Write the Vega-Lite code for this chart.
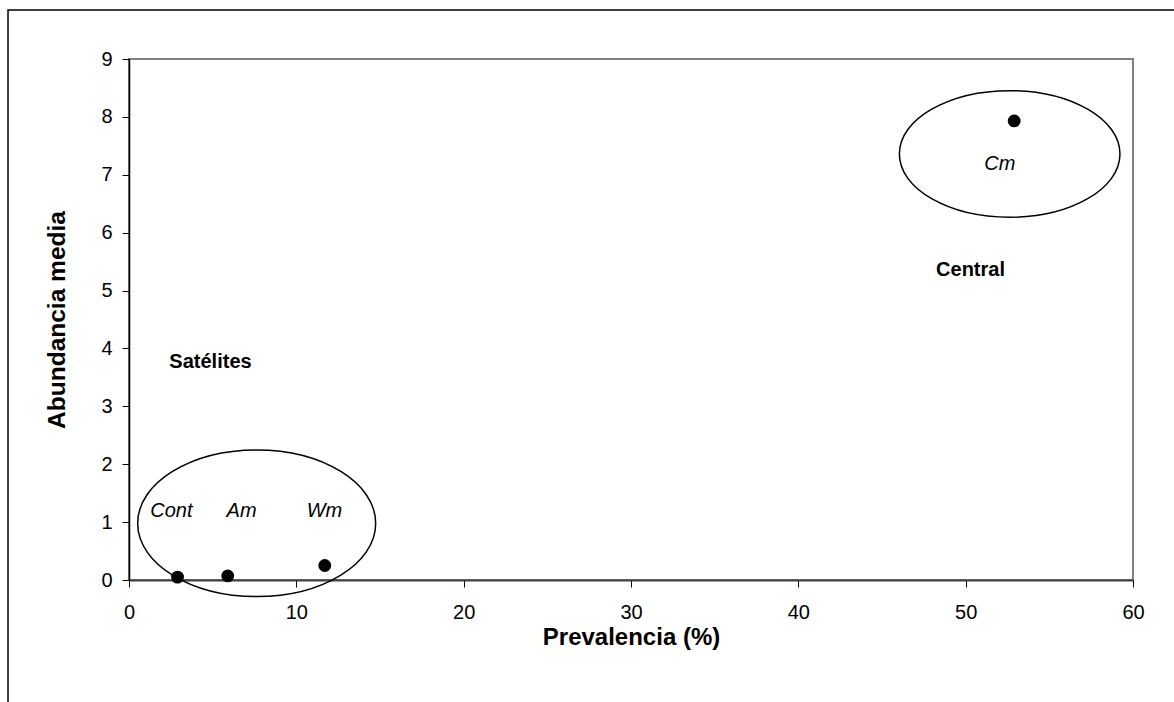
{
  "$schema": "https://vega.github.io/schema/vega-lite/v6.json",
  "width": 1004,
  "height": 521,
  "autosize": {"type": "none"},
  "padding": {"left": 129, "top": 59, "right": 41, "bottom": 122},
  "background": "white",
  "config": {
    "view": {"stroke": "#808080", "strokeWidth": 2},
    "font": "Liberation Sans"
  },
  "datasets": {
    "especies": [
      {"especie": "Cont", "x": 2.9, "y": 0.05},
      {"especie": "Am", "x": 5.9, "y": 0.07},
      {"especie": "Wm", "x": 11.7, "y": 0.25},
      {"especie": "Cm", "x": 52.9, "y": 7.93}
    ],
    "etiquetas": [
      {"texto": "Cont", "x": 2.53, "y": 1.09, "estilo": "especie"},
      {"texto": "Am", "x": 6.73, "y": 1.09, "estilo": "especie"},
      {"texto": "Wm", "x": 11.68, "y": 1.09, "estilo": "especie"},
      {"texto": "Cm", "x": 52.04, "y": 7.09, "estilo": "especie"},
      {"texto": "Satélites", "x": 4.87, "y": 3.67, "estilo": "grupo"},
      {"texto": "Central", "x": 50.29, "y": 5.25, "estilo": "grupo"}
    ],
    "grupos": [
      {"grupo": "Satélites", "x": 7.63, "y": 0.98},
      {"grupo": "Central", "x": 52.63, "y": 7.36}
    ],
    "marco": [
      {"x": -7.23, "x2": 70, "y": 9.846, "y2": -3}
    ]
  },
  "encoding": {
    "x": {
      "field": "x",
      "type": "quantitative",
      "scale": {"domain": [0, 60], "nice": false, "zero": false},
      "axis": {
        "title": "Prevalencia (%)",
        "values": [0, 10, 20, 30, 40, 50, 60],
        "grid": false,
        "domainColor": "#404040",
        "domainWidth": 2,
        "tickColor": "black",
        "tickSize": 7,
        "tickWidth": 1,
        "labelFontSize": 20,
        "labelColor": "black",
        "labelPadding": 15,
        "labelFlush": false,
        "titleFontSize": 24,
        "titleFontWeight": "bold",
        "titleColor": "black",
        "titlePadding": 3
      }
    },
    "y": {
      "field": "y",
      "type": "quantitative",
      "scale": {"domain": [0, 9], "nice": false, "zero": false},
      "axis": {
        "title": "Abundancia media",
        "values": [0, 1, 2, 3, 4, 5, 6, 7, 8, 9],
        "grid": false,
        "domainColor": "black",
        "domainWidth": 1.5,
        "tickColor": "black",
        "tickSize": 7,
        "tickWidth": 1,
        "labelFontSize": 20,
        "labelColor": "black",
        "labelPadding": 10,
        "labelFlush": false,
        "titleFontSize": 24.5,
        "titleFontWeight": "bold",
        "titleColor": "black",
        "titlePadding": 31
      }
    }
  },
  "layer": [
    {
      "data": {"name": "marco"},
      "mark": {"type": "rect", "fill": null, "filled": false, "stroke": "black", "strokeWidth": 1.5, "clip": false},
      "encoding": {
        "x2": {"field": "x2"},
        "y2": {"field": "y2"}
      }
    },
    {
      "data": {"name": "grupos"},
      "transform": [{"filter": "datum.grupo === 'Satélites'"}],
      "mark": {
        "type": "point",
        "shape": "M1,0 C1,0.3402 0.5523,0.616 0,0.616 C-0.5523,0.616 -1,0.3402 -1,0 C-1,-0.3402 -0.5523,-0.616 0,-0.616 C0.5523,-0.616 1,-0.3402 1,0 Z",
        "size": 56644,
        "filled": false,
        "stroke": "black",
        "strokeWidth": 1.5,
        "opacity": 1
      }
    },
    {
      "data": {"name": "grupos"},
      "transform": [{"filter": "datum.grupo === 'Central'"}],
      "mark": {
        "type": "point",
        "shape": "M1,0 C1,0.317 0.5523,0.574 0,0.574 C-0.5523,0.574 -1,0.317 -1,0 C-1,-0.317 -0.5523,-0.574 0,-0.574 C0.5523,-0.574 1,-0.317 1,0 Z",
        "size": 48664,
        "filled": false,
        "stroke": "black",
        "strokeWidth": 1.5,
        "opacity": 1
      }
    },
    {
      "data": {"name": "especies"},
      "mark": {"type": "point", "shape": "circle", "filled": true, "color": "black", "size": 165, "opacity": 1}
    },
    {
      "data": {"name": "etiquetas"},
      "transform": [{"filter": "datum.estilo === 'especie'"}],
      "mark": {"type": "text", "fontSize": 20, "fontStyle": "italic", "align": "center", "baseline": "alphabetic", "color": "black"},
      "encoding": {"text": {"field": "texto"}}
    },
    {
      "data": {"name": "etiquetas"},
      "transform": [{"filter": "datum.estilo === 'grupo'"}],
      "mark": {"type": "text", "fontSize": 20, "fontWeight": "bold", "align": "center", "baseline": "alphabetic", "color": "black"},
      "encoding": {"text": {"field": "texto"}}
    }
  ]
}
